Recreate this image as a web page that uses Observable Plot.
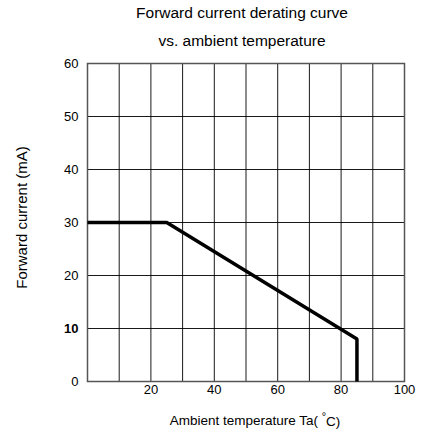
<!DOCTYPE html>
<html>
<head>
<meta charset="utf-8">
<script src="https://cdn.jsdelivr.net/npm/d3@7"></script>
<script src="https://cdn.jsdelivr.net/npm/@observablehq/plot@0.6"></script>
<style>
  html, body { margin: 0; padding: 0; background: #fff; }
</style>
</head>
<body>
<div id="chart"></div>
<script>
// Data
const temps = [0, 25, 85, 85];          // Ambient temperature (°C)
const current = [30, 30, 8, 0];         // Forward current (mA)
const xTickLabels = [20, 40, 60, 80, 100];
const xGridValues = [10, 20, 30, 40, 50, 60, 70, 80, 90];
const yTickLabels = [0, 10, 20, 30, 40, 50, 60];
const yGridValues = [10, 20, 30, 40, 50];
const titleLines = ["Forward current derating curve", "vs. ambient temperature"];
const xLabel = "Ambient temperature Ta( °C)";
const yLabel = "Forward current (mA)";

const pts = temps.map((t, i) => ({t, c: current[i]}));
const font = "'Liberation Sans', Arial, Helvetica, sans-serif";

const chart = Plot.plot({
  width: 424,
  height: 436,
  marginLeft: 87,
  marginRight: 20,
  marginTop: 63,
  marginBottom: 55,
  style: {fontFamily: font, fontSize: "13px", color: "#000", background: "#fff"},
  x: {domain: [0, 100]},
  y: {domain: [0, 60]},
  marks: [
    Plot.gridX(xGridValues, {stroke: "#000", strokeOpacity: 0.9, strokeWidth: 1}),
    Plot.gridY(yGridValues, {stroke: "#000", strokeOpacity: 0.9, strokeWidth: 1}),
    Plot.frame({stroke: "#555", strokeWidth: 1.5}),
    Plot.axisX(xTickLabels, {tickSize: 0, tickPadding: 3, label: null, fontSize: 13}),
    Plot.axisY(yTickLabels, {tickSize: 0, tickPadding: 9, label: null, fontSize: 13}),
    Plot.line(pts, {x: "t", y: "c", stroke: "#000", strokeWidth: 3.5, strokeLinejoin: "miter", strokeLinecap: "butt"}),
    Plot.text([titleLines[0]], {frameAnchor: "top", dx: -4, dy: -50, text: d => d, fontSize: 15.5, lineAnchor: "middle"}),
    Plot.text([titleLines[1]], {frameAnchor: "top", dx: -4, dy: -22, text: d => d, fontSize: 15.5, lineAnchor: "middle"}),
    Plot.text([xLabel], {frameAnchor: "bottom", dx: 9, dy: 39, text: d => d, fontSize: 13.5, lineAnchor: "middle", textAnchor: "middle"}),
    Plot.text([yLabel], {frameAnchor: "left", dx: -65, dy: -5, rotate: -90, text: d => d, fontSize: 15, lineAnchor: "middle", textAnchor: "middle"})
  ]
});

document.getElementById("chart").appendChild(chart);

// Superscript degree sign in the x label
d3.select(chart).selectAll("text").filter(function() { return this.textContent === xLabel; })
  .each(function() {
    const t = d3.select(this);
    t.text(null);
    t.append("tspan").text("Ambient temperature Ta( ");
    t.append("tspan").attr("dy", "-0.45em").attr("font-size", "11").text("°");
    t.append("tspan").attr("dy", "0.45em").text("C)");
  });

// Bold "10" tick label as in the reference
d3.select(chart).selectAll("g[aria-label='y-axis tick label'] text")
  .filter(function() { return this.textContent === "10"; })
  .attr("font-weight", "bold");
</script>
</body>
</html>
